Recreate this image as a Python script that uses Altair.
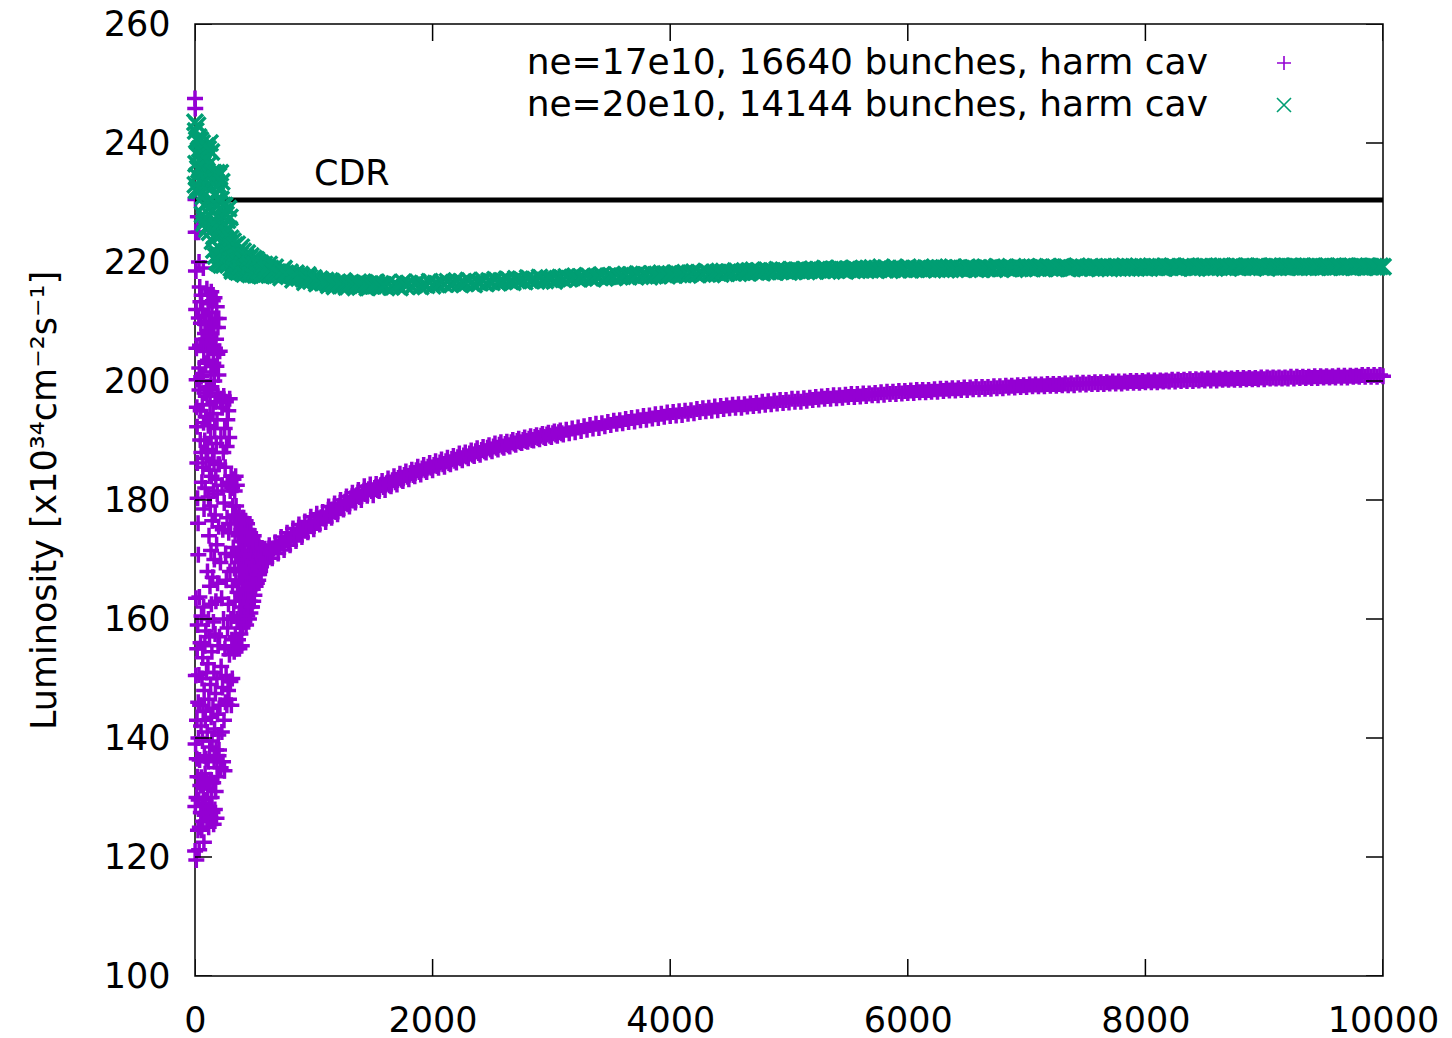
import altair as alt
import pandas as pd

# ---------------------------------------------------------------------------
# Series description
# ---------------------------------------------------------------------------
series_names = [
    "ne=17e10, 16640 bunches, harm cav",
    "ne=20e10, 14144 bunches, harm cav",
]
series_colors = ["#9400D3", "#009E73"]
cdr_value = 230.4
cdr_label = "CDR"
cdr_label_turn = 1320
cdr_label_lumi = 232.9
x_ticks = [0, 2000, 4000, 6000, 8000, 10000]
y_ticks = [100, 120, 140, 160, 180, 200, 220, 240, 260]

# Turn numbers of the recorded samples
turns_17_early = list(range(0, 200)) + list(range(200, 600, 2))
turns_20_early = list(range(0, 300, 3)) + list(range(300, 600, 5))
turns_late = list(range(600, 10001, 25))
turns_17_mid = [612.5 + 25 * k for k in range(100)]   # 612.5 .. 3087.5
turns_20_mid = [612.5 + 25 * k for k in range(40)]    # 612.5 .. 1587.5

# ---------------------------------------------------------------------------
# Luminosity, ne=17e10 (first 600 turns: strong oscillation)
# ---------------------------------------------------------------------------
lumi_17_early = [
    # turns 0 .. 199, every turn
    247.5, 121.0, 245.8, 128.5, 230.5, 139.0, 225.0, 150.5, 218.5, 163.5,
    212.0, 119.5, 205.5, 130.0, 200.2, 136.5, 195.6, 143.0, 192.3, 155.0,
    186.2, 133.5, 180.3, 159.0, 227.6, 124.5, 176.1, 146.0, 170.8, 140.0,
    225.0, 129.6, 210.6, 150.6, 220.0, 121.2, 202.2, 163.7, 198.5, 136.3,
    215.8, 125.0, 206.0, 145.5, 190.1, 132.0, 213.3, 156.0, 195.0, 127.5,
    209.7, 142.0, 200.7, 133.4, 188.0, 160.5, 214.4, 124.5, 183.0, 150.0,
    207.0, 129.0, 196.0, 139.5, 212.0, 153.5, 185.5, 126.0, 201.0, 144.5,
    219.0, 131.5, 193.0, 162.0, 205.0, 122.5, 178.5, 148.0, 211.0, 137.0,
    198.0, 127.0, 190.0, 155.5, 208.0, 134.0, 182.0, 143.0, 203.0, 129.6,
    194.0, 158.0, 209.5, 136.5, 187.0, 127.5, 199.0, 151.0, 206.5, 132.5,
    215.5, 126.0, 197.5, 141.0, 208.5, 168.0, 188.5, 131.5, 203.5, 152.5,
    213.0, 136.0, 192.5, 160.0, 180.5, 125.0, 205.0, 146.5, 174.0, 199.0,
    128.5, 210.0, 157.0, 185.0, 138.5, 214.5, 165.5, 196.0, 133.0, 179.0,
    207.5, 149.0, 190.5, 126.5, 201.5, 171.5, 143.5, 215.0, 162.5, 184.0,
    130.0, 198.5, 154.5, 211.5, 139.5, 176.5, 206.0, 127.5, 188.0, 167.0,
    213.5, 145.0, 194.5, 132.5, 203.0, 159.5, 181.5, 125.5, 209.0, 151.0,
    186.5, 136.5, 200.0, 170.0, 214.0, 141.5, 192.0, 128.0, 205.5, 157.5,
    177.5, 210.5, 147.5, 196.5, 131.0, 183.5, 163.0, 207.0, 138.0, 189.5,
    202.5, 126.5, 172.5, 212.5, 150.0, 193.5, 135.0, 181.0, 204.5, 144.0,
    166.0, 198.0, 133.5, 209.0, 155.5, 186.0, 140.5, 201.0, 137.0, 175.5,
    # turns 200 .. 598, every 2
    210.5, 138.0, 186.0, 157.0, 205.0, 145.5, 196.5, 169.5, 135.0, 190.5, 152.0, 197.0, 163.5, 141.0, 182.5, 195.5, 148.5, 175.0, 136.0, 188.0,
    160.0, 197.5, 143.0, 179.5, 134.5, 192.0, 155.0, 185.5, 146.0, 171.0, 196.5, 150.5, 166.5, 189.0, 145.5, 177.0, 193.5, 158.5, 183.0, 148.0,
    195.0, 162.5, 174.5, 146.5, 190.5, 154.0, 197.0, 168.0, 181.5, 149.5, 176.0, 160.0, 184.0, 145.5, 170.5, 156.5, 182.0, 150.0, 165.5, 179.0,
    155.5, 172.0, 183.5, 160.5, 177.5, 154.5, 168.5, 181.5, 163.0, 174.5, 157.0, 184.0, 166.5, 179.0, 155.0, 171.0, 182.5, 160.0, 176.0, 164.5,
    177.0, 156.5, 169.5, 174.0, 159.5, 166.0, 177.5, 155.0, 171.5, 162.0, 176.5, 157.5, 168.0, 173.0, 160.5, 175.0, 164.0, 155.5, 170.0, 177.0,
    158.5, 166.5, 174.5, 160.0, 171.0, 177.0, 163.0, 168.5, 159.5, 175.5, 165.0, 172.5, 161.5, 176.5, 167.5, 159.0, 173.5, 163.5, 170.0, 176.0,
    160.5, 168.0, 174.0, 162.5, 171.5, 165.5, 175.0, 160.0, 169.0, 173.0, 163.0, 167.0, 174.5, 161.0, 170.5, 165.0, 172.5, 162.0, 168.5, 174.0,
    162.0, 169.5, 173.5, 165.0, 171.0, 163.0, 168.0, 174.0, 166.0, 170.5, 164.0, 172.5, 167.0, 169.0, 173.0, 165.5, 171.5, 168.0, 166.0, 172.0,
    166.0, 170.5, 172.0, 167.5, 169.5, 171.5, 166.5, 170.0, 168.5, 172.0, 167.5, 170.5, 169.0, 171.8, 168.0, 170.8, 169.5, 171.5, 168.8, 170.5,
    169.3, 171.5, 170.0, 171.9, 169.5, 171.0, 170.2, 169.4, 171.7, 170.4, 169.6, 171.3, 170.8, 169.5, 171.8, 170.1, 169.8, 171.4, 170.3, 169.9,
]

# Luminosity, ne=17e10, turns 600 .. 10000 every 25
lumi_17_late = [
    169.5, 172.4, 170.2, 172.9, 171.0, 173.8, 171.6, 174.5, 172.4, 175.2, 173.1, 175.9, 173.8, 176.4, 174.6, 177.2, 175.1, 177.7, 175.9, 178.0,
    176.3, 178.9, 177.0, 179.4, 177.6, 180.0, 178.4, 180.6, 178.9, 181.2, 179.6, 181.7, 180.0, 182.3, 180.7, 182.6, 180.8, 182.7, 181.5, 183.2,
    181.7, 183.6, 182.3, 184.0, 182.6, 184.4, 183.2, 184.8, 183.5, 185.1, 184.0, 185.6, 184.3, 185.9, 184.7, 186.2, 185.0, 186.5, 185.4, 186.8,
    185.6, 187.1, 186.0, 187.4, 186.3, 187.8, 186.7, 188.0, 187.0, 188.3, 187.4, 188.7, 187.6, 188.9, 188.0, 189.2, 188.2, 189.5, 188.5, 189.7,
    188.8, 189.8, 189.0, 190.1, 189.3, 190.3, 189.6, 190.5, 189.8, 190.7, 190.0, 190.9, 190.2, 191.1, 190.4, 191.3, 190.6, 191.5, 190.8, 191.7,
    191.0, 191.8, 191.2, 192.0, 191.4, 192.2, 191.6, 192.4, 191.8, 192.6, 192.0, 192.8, 192.1, 192.9, 192.4, 193.1, 192.6, 193.3, 192.8, 193.4,
    192.9, 193.6, 193.1, 193.8, 193.2, 193.9, 193.4, 194.1, 193.5, 194.2, 193.7, 194.4, 193.8, 194.5, 194.0, 194.7, 194.1, 194.8, 194.2, 194.9,
    194.3, 195.0, 194.5, 195.1, 194.6, 195.3, 194.8, 195.4, 194.9, 195.5, 195.0, 195.7, 195.1, 195.8, 195.3, 195.9, 195.4, 196.0, 195.5, 196.1,
    195.5, 196.1, 195.7, 196.2, 195.8, 196.3, 195.9, 196.5, 196.0, 196.6, 196.1, 196.7, 196.2, 196.8, 196.3, 196.8, 196.4, 197.0, 196.5, 197.0,
    196.5, 197.1, 196.7, 197.2, 196.8, 197.3, 196.9, 197.4, 197.0, 197.5, 197.0, 197.6, 197.1, 197.6, 197.2, 197.7, 197.3, 197.8, 197.3, 197.8,
    197.4, 197.9, 197.5, 197.9, 197.6, 198.0, 197.6, 198.1, 197.7, 198.2, 197.8, 198.2, 197.8, 198.3, 197.9, 198.3, 198.0, 198.4, 198.0, 198.5,
    198.1, 198.5, 198.1, 198.5, 198.2, 198.6, 198.2, 198.7, 198.3, 198.7, 198.4, 198.8, 198.4, 198.8, 198.5, 198.9, 198.5, 198.9, 198.6, 199.0,
    198.6, 199.0, 198.7, 199.0, 198.7, 199.1, 198.8, 199.1, 198.8, 199.2, 198.9, 199.2, 198.9, 199.3, 199.0, 199.3, 199.0, 199.4, 199.1, 199.4,
    199.1, 199.4, 199.1, 199.5, 199.2, 199.5, 199.2, 199.5, 199.3, 199.6, 199.3, 199.6, 199.3, 199.7, 199.4, 199.7, 199.4, 199.7, 199.5, 199.8,
    199.5, 199.8, 199.5, 199.8, 199.6, 199.9, 199.6, 199.9, 199.6, 199.9, 199.7, 200.0, 199.7, 200.0, 199.7, 200.0, 199.8, 200.1, 199.8, 200.1,
    199.8, 200.1, 199.9, 200.1, 199.9, 200.2, 199.9, 200.2, 200.0, 200.2, 200.0, 200.3, 200.0, 200.3, 200.1, 200.3, 200.1, 200.4, 200.1, 200.4,
    200.1, 200.4, 200.2, 200.4, 200.2, 200.4, 200.2, 200.5, 200.2, 200.5, 200.3, 200.5, 200.3, 200.5, 200.3, 200.6, 200.3, 200.6, 200.4, 200.6,
    200.4, 200.6, 200.4, 200.6, 200.4, 200.7, 200.4, 200.7, 200.5, 200.7, 200.5, 200.7, 200.5, 200.8, 200.5, 200.8, 200.6, 200.8, 200.6, 200.8,
    200.6, 200.9, 200.6, 200.9, 200.6, 200.9, 200.7, 200.9, 200.7, 201.0, 200.7, 201.0, 200.7, 201.0, 200.7, 201.0, 200.8,
]

# Luminosity, ne=17e10, samples in between, turns 612.5 .. 3087.5
lumi_17_mid = [
    171.2, 171.0, 171.8, 172.1, 172.2, 172.8, 173.3, 173.0, 174.0, 173.6, 174.6, 174.3, 175.3, 174.9, 175.9, 175.6, 176.6, 176.2, 177.1, 176.9,
    177.8, 177.4, 178.4, 178.0, 179.0, 178.6, 179.7, 179.3, 180.3, 179.9, 180.8, 180.5, 181.3, 181.0, 181.8, 181.5, 182.0, 181.7, 182.5, 182.2,
    182.8, 182.5, 183.3, 183.0, 183.7, 183.4, 184.2, 183.9, 184.5, 184.2, 185.0, 184.7, 185.3, 185.0, 185.6, 185.4, 185.9, 185.7, 186.3, 186.0,
    186.5, 186.2, 186.9, 186.6, 187.2, 187.0, 187.5, 187.3, 187.8, 187.6, 188.2, 187.9, 188.4, 188.2, 188.8, 188.5, 189.0, 188.8, 189.3, 189.0,
    189.4, 189.2, 189.7, 189.5, 189.9, 189.7, 190.1, 189.9, 190.3, 190.1, 190.6, 190.4, 190.8, 190.6, 191.0, 190.8, 191.2, 191.0, 191.4, 191.2,
]

# ---------------------------------------------------------------------------
# Luminosity, ne=20e10 (first 600 turns)
# ---------------------------------------------------------------------------
lumi_20_early = [
    # turns 0 .. 297, every 3
    243.5, 233.0, 242.0, 236.5, 232.0, 240.5, 234.5, 243.0, 238.0, 232.5,
    241.0, 235.5, 232.0, 239.0, 233.5, 240.5, 236.0, 232.2, 238.5, 234.0,
    240.0, 228.0, 236.5, 231.0, 239.0, 226.5, 234.0, 229.5, 238.0, 227.0,
    235.5, 239.5, 230.0, 225.5, 237.5, 232.5, 226.0, 239.0, 233.0, 228.0,
    236.5, 225.0, 240.0, 230.5, 234.5, 226.5, 238.5, 228.5, 235.0, 223.5,
    233.5, 227.0, 235.0, 222.0, 230.0, 234.0, 224.5, 231.5, 221.0, 233.5,
    226.0, 235.0, 220.0, 229.5, 233.0, 222.5, 234.5, 219.8, 227.5, 232.0,
    221.0, 235.0, 224.5, 230.5, 219.5, 233.5, 226.0, 220.5, 229.5, 223.0,
    228.5, 219.5, 226.0, 229.5, 221.5, 224.0, 219.8, 228.0, 222.5, 225.5,
    220.0, 227.0, 223.0, 219.5, 229.0, 221.5, 225.5, 220.2, 227.5, 222.0,
    # turns 300 .. 595, every 5
    224.0, 219.0, 222.5, 218.5, 223.5, 220.5, 218.8, 222.8, 219.8, 221.5,
    218.5, 223.0, 220.0, 218.3, 222.0, 219.3, 221.2, 218.4, 222.5, 219.6,
    218.2, 221.8, 220.2, 218.0, 221.0, 219.0, 220.8, 218.4, 221.5, 219.2,
    218.1, 220.6, 219.5, 217.9, 221.0, 218.6, 220.2, 218.0, 219.8, 220.6,
    218.3, 219.6, 217.8, 220.4, 218.9, 217.9, 220.0, 218.5, 219.4, 217.8,
    219.8, 218.6, 217.7, 219.5, 218.2, 219.2, 217.8, 219.6, 218.4, 218.9,
]

# Luminosity, ne=20e10, turns 600 .. 10000 every 25
lumi_20_late = [
    218.7, 219.6, 218.0, 219.1, 218.3, 217.4, 218.9, 217.8, 218.3, 217.0, 218.1, 217.3, 217.6, 216.6, 217.8, 216.8, 217.3, 216.4, 217.1, 216.5,
    216.9, 216.1, 216.7, 215.9, 216.6, 216.0, 216.8, 215.8, 216.4, 216.2, 215.7, 216.6, 216.0, 216.5, 215.7, 216.3, 216.0, 216.6, 215.8, 216.2,
    216.0, 216.5, 215.8, 216.3, 216.1, 215.7, 216.6, 216.0, 216.4, 215.9, 216.2, 216.6, 215.9, 216.3, 216.1, 216.7, 216.0, 216.4, 216.2, 216.6,
    216.3, 216.7, 216.2, 216.5, 216.8, 216.3, 216.6, 216.4, 216.9, 216.5, 216.2, 216.7, 216.5, 216.9, 216.4, 216.8, 216.6, 217.0, 216.5, 216.8,
    216.7, 217.1, 216.8, 216.6, 217.2, 216.9, 217.0, 216.7, 217.3, 216.9, 217.1, 216.8, 217.4, 217.0, 216.9, 217.3, 217.1, 216.8, 217.2, 217.4,
    217.1, 217.5, 217.2, 217.4, 217.6, 217.2, 217.5, 217.3, 217.7, 217.4, 217.2, 217.6, 217.5, 217.8, 217.3, 217.6, 217.7, 217.4, 217.8, 217.5,
    217.6, 217.9, 217.5, 217.8, 217.7, 218.0, 217.6, 217.9, 217.8, 217.5, 218.0, 217.8, 217.7, 218.1, 217.9, 217.7, 218.0, 217.8, 218.1, 217.9,
    218.0, 218.2, 217.8, 218.1, 218.3, 217.9, 218.2, 218.0, 218.4, 218.1, 217.9, 218.3, 218.2, 218.0, 218.4, 218.1, 218.3, 218.2, 218.5, 218.1,
    218.3, 218.5, 218.2, 218.4, 218.6, 218.3, 218.5, 218.2, 218.6, 218.4, 218.5, 218.3, 218.7, 218.4, 218.6, 218.5, 218.3, 218.7, 218.5, 218.6,
    218.5, 218.7, 218.4, 218.6, 218.8, 218.5, 218.7, 218.6, 218.9, 218.5, 218.7, 218.8, 218.6, 218.9, 218.7, 218.5, 218.8, 218.7, 218.9, 218.6,
    218.7, 218.9, 218.6, 218.8, 219.0, 218.7, 218.8, 219.1, 218.7, 218.9, 218.6, 218.8, 219.0, 218.7, 218.9, 218.8, 219.1, 218.7, 218.9, 218.8,
    218.9, 218.7, 219.0, 218.8, 218.9, 219.1, 218.8, 218.9, 219.0, 218.7, 218.9, 219.1, 218.8, 219.0, 218.9, 218.8, 219.1, 218.9, 219.0, 218.8,
    219.0, 218.8, 219.1, 218.9, 219.0, 218.8, 219.2, 218.9, 219.0, 219.1, 218.9, 219.0, 218.8, 219.1, 219.0, 218.9, 219.2, 219.0, 218.9, 219.1,
    219.0, 219.1, 218.9, 219.2, 219.0, 219.1, 218.9, 219.0, 219.2, 219.1, 218.9, 219.0, 219.1, 219.3, 219.0, 219.1, 218.9, 219.1, 219.0, 219.2,
    219.1, 219.0, 219.2, 219.1, 218.9, 219.1, 219.2, 219.0, 219.1, 219.3, 219.0, 219.1, 219.2, 219.0, 219.1, 219.2, 219.0, 219.1, 219.3, 219.1,
    219.1, 219.2, 219.0, 219.2, 219.1, 219.3, 219.1, 219.0, 219.2, 219.1, 219.3, 219.2, 219.0, 219.1, 219.2, 219.1, 219.3, 219.2, 219.0, 219.2,
    219.2, 219.1, 219.3, 219.2, 219.0, 219.2, 219.3, 219.1, 219.2, 219.1, 219.3, 219.2, 219.1, 219.2, 219.3, 219.1, 219.2, 219.0, 219.2, 219.3,
    219.2, 219.1, 219.3, 219.2, 219.1, 219.2, 219.3, 219.2, 219.1, 219.3, 219.2, 219.1, 219.2, 219.3, 219.1, 219.2, 219.2, 219.3, 219.1, 219.2,
    219.2, 219.3, 219.1, 219.2, 219.3, 219.2, 219.1, 219.2, 219.3, 219.2, 219.1, 219.3, 219.2, 219.2, 219.1, 219.3, 219.2,
]

# Luminosity, ne=20e10, samples in between, turns 612.5 .. 1587.5
lumi_20_mid = [
    219.0, 218.8, 218.4, 218.1, 217.9, 218.6, 218.1, 217.6, 217.8, 217.5, 217.6, 217.9, 217.2, 217.0, 217.4, 217.1, 216.9, 216.7, 216.9, 216.6,
    216.5, 216.4, 216.3, 216.2, 216.4, 216.1, 216.3, 216.2, 216.4, 216.2, 216.3, 216.0, 216.1, 216.4, 216.2, 216.0, 216.3, 216.1, 215.9, 216.1,
]

# ---------------------------------------------------------------------------
# Tables
# ---------------------------------------------------------------------------
df_17 = pd.DataFrame({"turn": turns_17_early + turns_late + turns_17_mid,
                      "lumi": lumi_17_early + lumi_17_late + lumi_17_mid})
df_20 = pd.DataFrame({"turn": turns_20_early + turns_late + turns_20_mid,
                      "lumi": lumi_20_early + lumi_20_late + lumi_20_mid})
df_xt = pd.DataFrame({"t": x_ticks})
df_yt = pd.DataFrame({"t": y_ticks})
df_cdr = pd.DataFrame({"lumi": [cdr_value]})
df_cdr_label = pd.DataFrame({"label": [cdr_label], "turn": [cdr_label_turn],
                             "lumi": [cdr_label_lumi]})

# gnuplot-like point symbols: "+" and "x" drawn as strokes
PLUS = "M-1,0L1,0M0,-1L0,1"
CROSS = "M-1,-1L1,1M-1,1L1,-1"

FONT = "DejaVu Sans"
W, H = 1188, 952

x_scale = alt.Scale(domain=[0, 10000], nice=False, zero=False)
y_scale = alt.Scale(domain=[100, 260], nice=False, zero=False)

x_axis = alt.Axis(values=x_ticks, format="d", title=None, grid=False,
                  domain=False, ticks=False, tickSize=0, labelFont=FONT,
                  labelFontSize=35, labelColor="black", labelFlush=False,
                  labelPadding=55, labelBaseline="alphabetic",
                  labelOverlap=False)
y_axis = alt.Axis(values=y_ticks, format="d", title="Luminosity [x10³⁴cm⁻²s⁻¹]",
                  grid=False, domain=False, ticks=False, tickSize=0,
                  labelFont=FONT, labelFontSize=35, labelColor="black",
                  labelFlush=False, labelPadding=25, labelOverlap=False,
                  titleFont=FONT, titleFontSize=35, titleFontWeight="normal",
                  titleColor="black", titleAngle=270, titleX=-140, titleY=H / 2,
                  titleAlign="center", titleBaseline="alphabetic")

X_T = alt.X("t:Q", scale=x_scale, axis=x_axis)
Y_T = alt.Y("t:Q", scale=y_scale, axis=y_axis)
X_TURN = alt.X("turn:Q", scale=x_scale, axis=x_axis)
Y_LUMI = alt.Y("lumi:Q", scale=y_scale, axis=y_axis)

# Inward tick marks on all four sides (half of each tick is clipped away)
tick_style = dict(size=34, thickness=1.5, color="black", opacity=1, clip=True)
ticks_bottom = alt.Chart(df_xt).mark_tick(orient="vertical", **tick_style).encode(
    x=X_T, y=alt.value(H))
ticks_top = alt.Chart(df_xt).mark_tick(orient="vertical", **tick_style).encode(
    x=X_T, y=alt.value(0))
ticks_left = alt.Chart(df_yt).mark_tick(orient="horizontal", **tick_style).encode(
    y=Y_T, x=alt.value(0))
ticks_right = alt.Chart(df_yt).mark_tick(orient="horizontal", **tick_style).encode(
    y=Y_T, x=alt.value(W))

# CDR reference level
cdr_line = alt.Chart(df_cdr).mark_rule(color="black", strokeWidth=5).encode(
    y=Y_LUMI, x=alt.value(0), x2=alt.value(W))
cdr_text = alt.Chart(df_cdr_label).mark_text(
    font=FONT, fontSize=35, color="black", align="center",
    baseline="alphabetic").encode(x=X_TURN, y=Y_LUMI, text="label:N")

# Luminosity samples
pts_17 = alt.Chart(df_17).mark_point(
    shape=PLUS, filled=False, size=256, strokeWidth=3.5,
    color=series_colors[0], opacity=1).encode(x=X_TURN, y=Y_LUMI)
pts_20 = alt.Chart(df_20).mark_point(
    shape=CROSS, filled=False, size=256, strokeWidth=3.5,
    color=series_colors[1], opacity=1).encode(x=X_TURN, y=Y_LUMI)

# Key, top right inside the frame: text right-justified, symbol after it
def key_entry(name, shape, color, row_y):
    src = pd.DataFrame({"name": [name]})
    label = alt.Chart(src).mark_text(
        font=FONT, fontSize=36, color="black", align="right",
        baseline="middle").encode(
        x=alt.value(1013), y=alt.value(row_y), text="name:N")
    symbol = alt.Chart(src).mark_point(
        shape=shape, filled=False, size=196, strokeWidth=1.6,
        color=color, opacity=1).encode(x=alt.value(1089), y=alt.value(row_y))
    return [label, symbol]

key_layers = (key_entry(series_names[0], PLUS, series_colors[0], 39)
              + key_entry(series_names[1], CROSS, series_colors[1], 81))

chart = alt.layer(
    pts_17, ticks_bottom, ticks_top, ticks_left, ticks_right,
    cdr_line, cdr_text, pts_20, *key_layers,
).properties(
    width=W, height=H,
    autosize=alt.AutoSizeParams(type="none"),
    padding={"left": 195, "top": 24, "right": 69, "bottom": 62},
    background="white",
).configure_view(stroke="black", strokeWidth=1.5)

chart.save("out.html", embed_options={"renderer": "svg", "actions": False})
